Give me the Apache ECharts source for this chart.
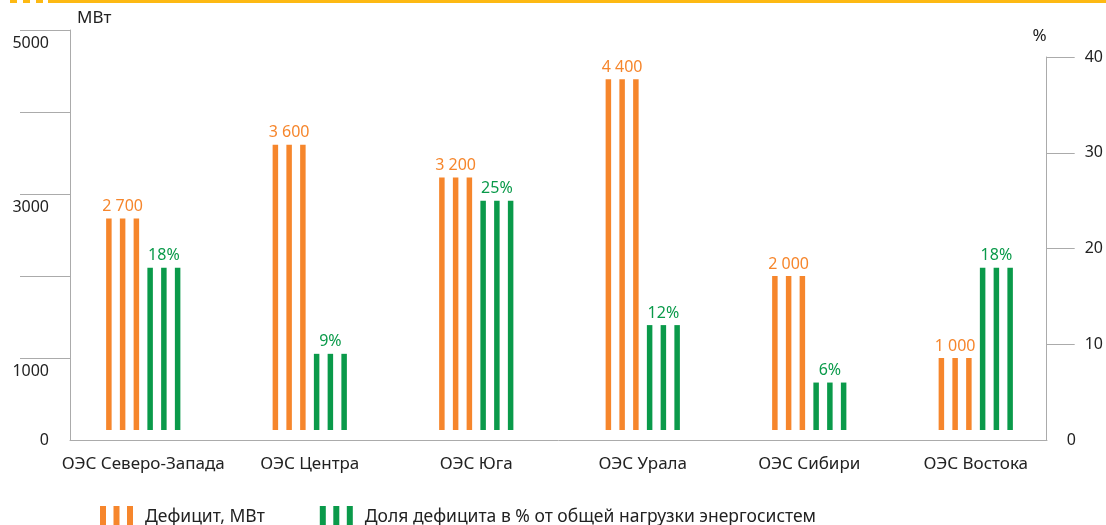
<!DOCTYPE html>
<html>
<head>
<meta charset="utf-8">
<script src="https://cdn.jsdelivr.net/npm/echarts@6/dist/echarts.min.js"></script>
<style>
  html, body { margin: 0; padding: 0; background: #fff; }
  #chart { width: 1106px; height: 525px; }
</style>
</head>
<body>
<div id="chart"></div>
<script>
// данные
const categories = ["ОЭС Северо-Запада", "ОЭС Центра", "ОЭС Юга", "ОЭС Урала", "ОЭС Сибири", "ОЭС Востока"];
const deficitMW = [2700, 3600, 3200, 4400, 2000, 1000];
const deficitShare = [18, 9, 25, 12, 6, 18];
const mwTicks = [1000, 2000, 3000, 4000, 5000];
const mwLabels = [0, 1000, 3000, 5000];
const pctTicks = [10, 20, 30, 40];
const pctLabels = [0, 10, 20, 30, 40];

const ORANGE = "#f6862c";
const GREEN = "#0a9a4a";
const AXIS = "#ababab";
const TEXT = "#222";
const FONT = "Noto Sans";

// правая ось короче левой: 40% стоит ниже, чем 5000
const axisTop = 30, axisBottom = 440, pctTop = 57;
const pctMax = 40 * (axisBottom - axisTop) / (axisBottom - pctTop);

const chart = echarts.init(document.getElementById("chart"));

// каждая серия рисуется тремя тонкими полосками
function stripes(name, data, color, yIdx, fmt) {
  return [0, 1, 2].map(i => ({
    name: name,
    type: "bar",
    xAxisIndex: 2,
    yAxisIndex: yIdx,
    data: data,
    barWidth: 5.5,
    barGap: "150%",
    itemStyle: { color: color },
    label: {
      show: i === 1,
      position: "top",
      distance: 4,
      color: color,
      fontFamily: FONT,
      fontSize: 16,
      formatter: p => fmt(p.value)
    }
  }));
}

const icon = "path://M0,0h6v22h-6z M13.5,0h6v22h-6z M27,0h6v22h-6z";

const option = {
  animation: false,
  textStyle: { fontFamily: FONT },
  grid: [
    { left: 70, right: 59, top: axisTop, bottom: 525 - axisBottom },
    { left: 70, right: 59, top: pctTop, bottom: 525 - axisBottom },
    { left: 60, right: 47, top: axisTop, bottom: 525 - axisBottom }
  ],
  legend: {
    left: 95,
    top: 501,
    itemWidth: 33,
    itemHeight: 22,
    itemGap: 55,
    textStyle: { fontSize: 17.5, color: TEXT, fontFamily: FONT, padding: [0, 0, 0, 7] },
    data: [
      { name: "Дефицит, МВт", icon: icon, itemStyle: { color: ORANGE } },
      { name: "Доля дефицита в % от общей нагрузки энергосистем", icon: icon, itemStyle: { color: GREEN } }
    ]
  },
  xAxis: [
    {
      gridIndex: 0, type: "category", data: categories,
      axisLine: { lineStyle: { color: AXIS } },
      axisTick: { show: false }, axisLabel: { show: false }
    },
    { gridIndex: 1, type: "category", data: categories, show: false },
    {
      gridIndex: 2, type: "category", data: categories,
      axisLine: { show: false }, axisTick: { show: false },
      axisLabel: { interval: 0, color: TEXT, fontSize: 17, margin: 16, fontFamily: FONT }
    }
  ],
  yAxis: [
    {
      gridIndex: 0, type: "value", position: "left",
      min: 0, max: 5000, interval: 1000,
      name: "МВт", nameLocation: "end", nameGap: 3,
      nameTextStyle: { color: TEXT, fontSize: 17, align: "left", padding: [0, 0, 0, 7] },
      splitLine: { show: false },
      axisLine: { show: true, lineStyle: { color: AXIS } },
      axisTick: { show: true, length: 50, customValues: mwTicks, lineStyle: { color: AXIS } },
      axisLabel: {
        customValues: mwLabels,
        align: "right", margin: 21, color: TEXT, fontSize: 16,
        formatter: v => v === 0 ? "{z|0}" : "{n|" + v + "}",
        rich: { n: { padding: [26, 0, 0, 0], fontSize: 16, color: TEXT }, z: { fontSize: 16, color: TEXT } }
      }
    },
    {
      gridIndex: 1, type: "value", position: "right",
      min: 0, max: 40, interval: 10,
      name: "%", nameLocation: "end", nameGap: 12,
      nameTextStyle: { color: TEXT, fontSize: 17, align: "right" },
      splitLine: { show: false },
      axisLine: { show: true, lineStyle: { color: AXIS } },
      axisTick: { show: true, length: 28, customValues: pctTicks, lineStyle: { color: AXIS } },
      axisLabel: {
        customValues: pctLabels,
        align: "left", margin: 20, color: TEXT, fontSize: 16,
        formatter: v => v === 0 ? "{z|0}" : "{n|" + v + "}",
        rich: { n: { padding: [0, 0, 0, 18], fontSize: 16, color: TEXT }, z: { fontSize: 16, color: TEXT } }
      }
    },
    { gridIndex: 2, type: "value", min: 0, max: 5000, show: false },
    { gridIndex: 2, type: "value", min: 0, max: pctMax, show: false }
  ],
  series: [
    ...stripes("Дефицит, МВт", deficitMW, ORANGE, 2, v => String(v).replace(/\B(?=(\d{3})+$)/g, " ")),
    ...stripes("Доля дефицита в % от общей нагрузки энергосистем", deficitShare, GREEN, 3, v => v + "%")
  ],
  graphic: [
    // жёлтая полоса сверху
    { type: "rect", shape: { x: 48, y: 0, width: 1060, height: 3 }, style: { fill: "#fdb913" } },
    { type: "rect", shape: { x: 10, y: 0, width: 7, height: 3 }, style: { fill: "#fdb913" } },
    { type: "rect", shape: { x: 23, y: 0, width: 7, height: 3 }, style: { fill: "#fdb913" } },
    { type: "rect", shape: { x: 36, y: 0, width: 7, height: 3 }, style: { fill: "#fdb913" } },
    // полоски не доходят до оси
    { type: "rect", z: 100, shape: { x: 71, y: 430, width: 975, height: 10 }, style: { fill: "#fff" } }
  ]
};

chart.setOption(option);
</script>
</body>
</html>
